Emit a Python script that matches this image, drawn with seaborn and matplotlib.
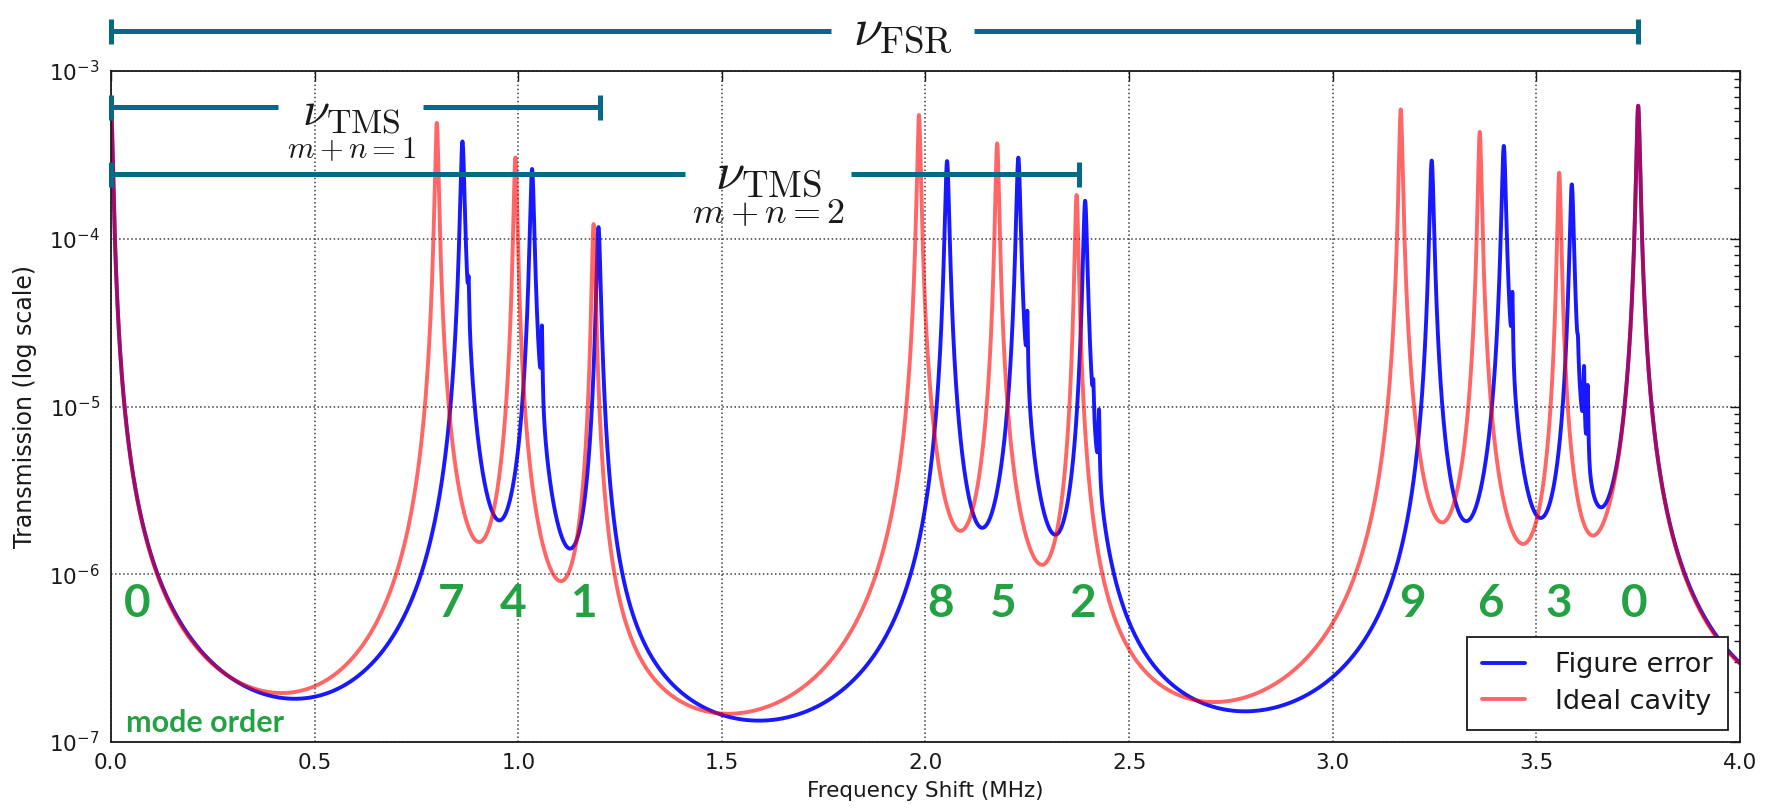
import numpy as np
import pandas as pd
import seaborn as sns
import matplotlib.pyplot as plt
from matplotlib.transforms import blended_transform_factory

# free spectral range of the cavity (MHz)
fsr = 3.75

# fundamental mode (same for both curves), peak at 0 and at fsr
fund_freq = [0.0]
fund_height = [6.2e-4]
# higher order mode peaks (MHz) and peak transmission
ideal_freq = [0.800, 0.993, 1.185, 1.984, 2.176, 2.371, 3.167, 3.361, 3.556]
ideal_height = [4.9e-4, 3.05e-4, 1.22e-4, 5.46e-4, 3.7e-4, 1.82e-4,
                5.9e-4, 4.33e-4, 2.47e-4]
err_freq = [0.863, 1.034, 1.197, 2.053, 2.228, 2.392, 3.243, 3.420, 3.587]
err_height = [3.8e-4, 2.6e-4, 1.17e-4, 2.9e-4, 3.04e-4, 1.68e-4,
              2.92e-4, 3.57e-4, 2.1e-4]
# small split-mode bumps on the figure error curve
bump_freq = [0.878, 1.058, 2.250, 2.412, 2.426, 3.441, 3.602, 3.617, 3.626]
bump_height = [2.4e-5, 2.0e-5, 2.3e-5, 5e-6, 6e-6, 3.0e-5, 6e-6, 1.1e-5, 9e-6]
# half linewidths (MHz)
hwhm_ideal = 0.0042
hwhm_err = 0.0048
hwhm_bump = 0.0015

# mode order labels
order_labels = ['0', '7', '4', '1', '8', '5', '2', '9', '6', '3', '0']
order_freq = [0.064, 0.834, 0.988, 1.16, 2.037, 2.19, 2.385, 3.196, 3.387, 3.556, 3.74]

W, H = 1774, 809
teal = '#066a86'
green = '#24a142'


def spectrum(f, centres, heights, width):
    t = np.zeros_like(f)
    for c, h in zip(centres, heights):
        for k in (-1, 0, 1, 2):
            t += h / (1 + ((f - c - k * fsr) / width) ** 2)
    return t


freq = np.linspace(0, 4, 16001)
fund = spectrum(freq, fund_freq, fund_height, hwhm_ideal)
ideal = fund + spectrum(freq, ideal_freq, ideal_height, hwhm_ideal)
err = fund + spectrum(freq, err_freq, err_height, hwhm_err) + \
      spectrum(freq, bump_freq, bump_height, hwhm_bump)
df_err = pd.DataFrame({'freq': freq, 'T': err})
df_ideal = pd.DataFrame({'freq': freq, 'T': ideal})

sns.set_theme(style='white', rc={'axes.edgecolor': 'k',
                                 'axes.linewidth': 1.3,
                                 'xtick.color': 'k', 'ytick.color': 'k',
                                 'text.color': 'k', 'axes.labelcolor': 'k'})
plt.rcParams['font.family'] = ['DejaVu Sans']

fig = plt.figure(figsize=(W / 100, H / 100), dpi=100)
ax = fig.add_axes([111 / W, 1 - 742 / H, (1740 - 111) / W, (742 - 71) / H])

sns.lineplot(data=df_err, x='freq', y='T', color='#0000ff', alpha=0.9,
             lw=2.8, label='Figure error', ax=ax, errorbar=None)
sns.lineplot(data=df_ideal, x='freq', y='T', color='#ff0000', alpha=0.6,
             lw=2.8, label='Ideal cavity', ax=ax, errorbar=None)

ax.set_yscale('log')
ax.set_xlim(0, 4)
ax.set_ylim(1e-7, 1e-3)
ax.set_xticks(np.arange(0, 4.01, 0.5))
ax.grid(True, which='major', linestyle=':', color='0.25', lw=1.1)
ax.tick_params(which='both', direction='in', top=True, right=True,
               labelsize=15.5, width=1)
ax.tick_params(which='major', length=7, pad=8)
ax.tick_params(which='minor', length=4)
ax.set_xlabel('Frequency Shift (MHz)', fontsize=15.5, labelpad=6)
ax.set_ylabel('Transmission (log scale)', fontsize=17, labelpad=9)

leg = ax.legend(loc='lower right', fontsize=19.5, fancybox=False,
                edgecolor='k', framealpha=1, handlelength=1.6,
                handletextpad=1.1, borderaxespad=0.45, borderpad=0.55,
                labelspacing=0.4)
leg.get_frame().set_linewidth(1.3)

# brackets: x in data, y in figure pixels
tr = blended_transform_factory(ax.transData, fig.transFigure)


def yp(p):
    return 1 - p / H


def bracket(x0, x1, y, gap0, gap1, half=12.5):
    kw = dict(transform=tr, clip_on=False, color=teal, lw=3.6,
              solid_capstyle='butt', zorder=6)
    ax.plot([x0, gap0], [yp(y), yp(y)], **kw)
    ax.plot([gap1, x1], [yp(y), yp(y)], **kw)
    for x in (x0, x1):
        ax.plot([x, x], [yp(y - half), yp(y + half)], **kw)


bracket(0.0, fsr, 31, 1.768, 2.118)
bracket(0.0, 1.200, 107, 0.411, 0.766)
bracket(0.0, 2.378, 174, 1.410, 1.816)

ax.text(1.944, yp(29), r'$\nu_{\rm FSR}$', transform=tr, fontsize=38,
        math_fontfamily='cm', ha='center', va='center', zorder=7)
ax.text(0.59, yp(111), r'$\nu_{\rm TMS}$', transform=tr, fontsize=35,
        math_fontfamily='cm', ha='center', va='center', zorder=7)
ax.text(0.59, yp(150), r'$m+n=1$', transform=tr, fontsize=22,
        math_fontfamily='cm', ha='center', va='center', zorder=7)
ax.text(1.614, yp(173), r'$\nu_{\rm TMS}$', transform=tr, fontsize=38,
        math_fontfamily='cm', ha='center', va='center', zorder=7)
ax.text(1.614, yp(213), r'$m+n=2$', transform=tr, fontsize=26,
        math_fontfamily='cm', ha='center', va='center', zorder=7)

for lab, x in zip(order_labels, order_freq):
    ax.text(x, 5.57e-7, lab, fontsize=33, family='Lato', weight='bold',
            color=green, ha='center', va='baseline', zorder=5)
ax.text(0.037, 1.15e-7, 'mode order', fontsize=22, family='Lato',
        weight='bold', color=green, ha='left', va='baseline', zorder=5)

fig.savefig('out.png', dpi=100)
